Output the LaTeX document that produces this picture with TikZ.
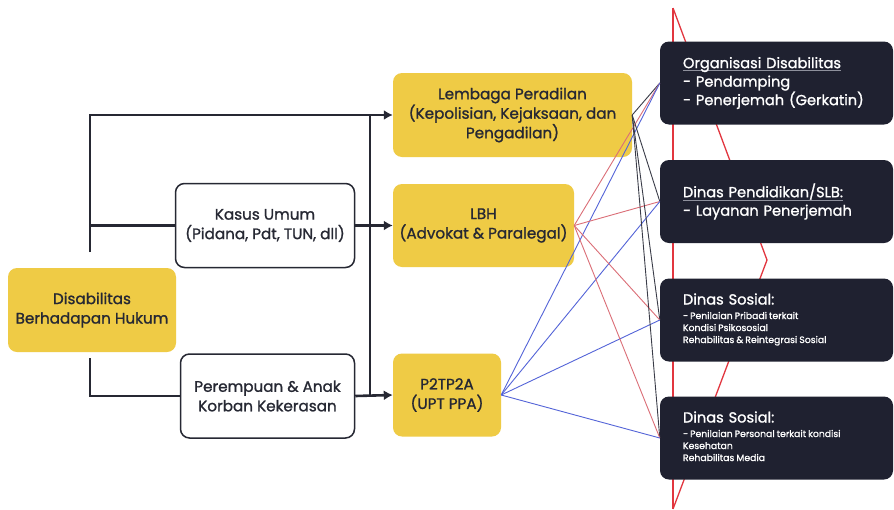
\documentclass[tikz,border=0pt]{standalone}
\usepackage{fontspec}
\setmainfont{Poppins}[UprightFeatures={FakeBold=1.2}]
\usetikzlibrary{arrows.meta}
\definecolor{kuning}{HTML}{EFCB45}
\definecolor{gelap}{HTML}{1F2130}
\definecolor{garis}{HTML}{262833}
\definecolor{merah}{HTML}{E2363F}
\definecolor{hubMerah}{HTML}{DB6E77}
\definecolor{hubBiru}{HTML}{5464D8}
\definecolor{hubHitam}{HTML}{3A3C48}
\definecolor{abuGaris}{HTML}{8E909C}
\newcommand{\judulGaris}[1]{\setbox0\hbox{#1}\rlap{\color{abuGaris}\rule[-3pt]{\wd0}{0.7pt}}\box0}
\newcommand{\rinci}[1]{{\fontsize{9.3}{12}\selectfont\spaceskip=0.22em\begin{tabular}[t]{@{}l@{}}#1\end{tabular}}}

\begin{document}
\begin{tikzpicture}[x=1pt, y=-1pt,
    kotak/.style={rounded corners=9pt, align=center, text=garis, inner sep=0pt,
        font=\fontsize{15.2}{19.5}\selectfont},
    kuningbox/.style={kotak, fill=kuning},
    putihbox/.style={kotak, draw=garis, line width=1.5pt, fill=white},
    gelapbox/.style={rounded corners=9pt, fill=gelap, text=white, align=left,
        minimum height=83pt, text width=187pt, inner xsep=23pt, inner ysep=0pt,
        font=\fontsize{14.6}{18.5}\selectfont},
    alur/.style={garis, line width=2.6pt},
    panah/.style={alur, -{Latex[length=9pt,width=10pt]}},
    kecil/.style={line width=0.9pt}
]
    % --- PARAMETRY ---
    \pgfmathsetmacro{\kiriX}{90}      % tulang kiri
    \pgfmathsetmacro{\busX}{370}      % tulang tengah
    \pgfmathsetmacro{\merahX}{673}    % garis merah di belakang
    \pgfmathsetmacro{\puncakX}{767}   % titik zigzag

    \useasboundingbox (0,0) rectangle (894,509);
    \fill[white] (0,0) rectangle (894,509);

    % Garis merah (latar)
    \draw[merah, line width=1.3pt] (\merahX,8) -- (\merahX,509);
    \draw[merah, line width=1.3pt] (\merahX,8) -- (\puncakX,260) -- (\merahX,509);

    % Kolom kiri
    \node[kuningbox, minimum width=168pt, minimum height=84pt] (dis) at (92,310)
        {Disabilitas\\Berhadapan Hukum};
    \node[putihbox, minimum width=179pt, minimum height=84pt] (kasus) at (265,225.5)
        {Kasus Umum\\(Pidana, Pdt, TUN, dll)};
    \node[putihbox, minimum width=174pt, minimum height=84pt] (perem) at (267.5,396)
        {Perempuan \& Anak\\Korban Kekerasan};

    % Kolom tengah
    \node[kuningbox, minimum width=239pt, minimum height=84pt] (lemb) at (512.5,115)
        {Lembaga Peradilan\\(Kepolisian, Kejaksaan, dan\\Pengadilan)};
    \node[kuningbox, minimum width=181pt, minimum height=83pt] (lbh) at (483.5,225.5)
        {LBH\\(Advokat \& Paralegal)};
    \node[kuningbox, minimum width=108pt, minimum height=83pt] (p2) at (447,395)
        {P2TP2A\\(UPT PPA)};

    % Kolom kanan
    \node[gelapbox] (org) at (776.5,83)
        {\judulGaris{Organisasi Disabilitas}\\- Pendamping\\- Penerjemah (Gerkatin)};
    \node[gelapbox] (pend) at (776.5,201.5)
        {\judulGaris{Dinas Pendidikan/SLB:}\\- Layanan Penerjemah};
    \node[gelapbox] (sos1) at (776.5,320)
        {Dinas Sosial:\\[-4pt]
         \rinci{- Penilaian Pribadi terkait\\Kondisi Psikososial\\Rehabilitas \& Reintegrasi Sosial}};
    \node[gelapbox] (sos2) at (776.5,438)
        {Dinas Sosial:\\[-4pt]
         \rinci{- Penilaian Personal terkait kondisi\\Kesehatan\\Rehabilitas Media}};

    % Alur tebal
    \coordinate (atas) at (\kiriX,252);
    \coordinate (bawah) at (\kiriX,358);
    \draw[panah] (atas) |- (lemb.west);
    \draw[alur] (atas |- kasus.west) -- (kasus.west);
    \draw[alur] (bawah) |- (perem.west);
    \draw[alur] (lemb.west -| \busX,0) -- (p2.west -| \busX,0);
    \draw[panah] (kasus.east) -- (lbh.west);
    \draw[panah] (perem.east) -- (p2.west);

    % Garis tipis ke layanan
    \foreach \t in {org,pend,sos1,sos2} {
        \draw[kecil, hubHitam] (lemb.east) -- (\t.west);
        \draw[kecil, hubMerah] (lbh.east) -- (\t.west);
        \draw[kecil, hubBiru] (p2.east) -- (\t.west);
    }
\end{tikzpicture}
\end{document}
